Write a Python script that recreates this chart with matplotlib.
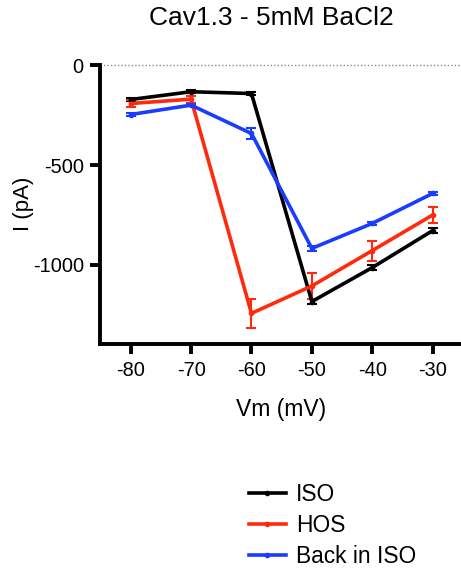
import numpy as np
import matplotlib
matplotlib.use('Agg')
import matplotlib.pyplot as plt
from matplotlib.lines import Line2D

plt.rcParams['font.family'] = ['Liberation Sans', 'DejaVu Sans']
plt.rcParams['axes.unicode_minus'] = False

vm = [-80, -70, -60, -50, -40, -30]
iso = [-172, -133, -142, -1183, -1013, -828]
iso_err = [8, 8, 8, 12, 12, 12]
hos = [-192, -170, -1242, -1105, -928, -750]
hos_err = [18, 17, 73, 65, 50, 42]
back = [-247, -200, -342, -917, -792, -642]
back_err = [6, 6, 29, 12, 6, 6]

fig = plt.figure(figsize=(4.61, 5.78), dpi=100)
ax = fig.add_axes([0.218, 0.405, 0.782, 0.484])

ax.axhline(0, color='#888888', ls=(0, (1, 1.5)), lw=1, zorder=0)

series = [(iso, iso_err, 'black', 'ISO'),
          (hos, hos_err, '#ff2a0e', 'HOS'),
          (back, back_err, '#1a3cff', 'Back in ISO')]
handles = []
for y, e, c, lab in series:
    ax.errorbar(vm, y, yerr=e, color=c, lw=2.6, marker='o', ms=3,
                capsize=3.5, capthick=1.5, elinewidth=1.5)
    handles.append(Line2D([], [], color=c, lw=2.6, marker='o', ms=3, label=lab))

ax.set_xlim(-85, -25.3)
ax.set_ylim(-1395, 5)
ax.set_xticks(vm)
ax.set_yticks([0, -500, -1000])
for s in ['top', 'right']:
    ax.spines[s].set_visible(False)
for s in ['left', 'bottom']:
    ax.spines[s].set_linewidth(2.8)
ax.spines['left'].set_bounds(-1395, 0)
ax.tick_params(width=2.8, length=7, labelsize=14.4, pad=5)

ax.set_title('Cav1.3 - 5mM BaCl2', fontsize=19, pad=28, x=0.475)
ax.set_xlabel('Vm (mV)', fontsize=16.5, labelpad=13)
ax.set_ylabel('I (pA)', fontsize=16, labelpad=-1)

fig.legend(handles=handles, loc='upper left', bbox_to_anchor=(0.506, 0.192),
           frameon=False, fontsize=16.4, handlelength=1.6, handletextpad=0.45,
           labelspacing=0.35, borderpad=0.2)

fig.savefig('out.png', dpi=100)
